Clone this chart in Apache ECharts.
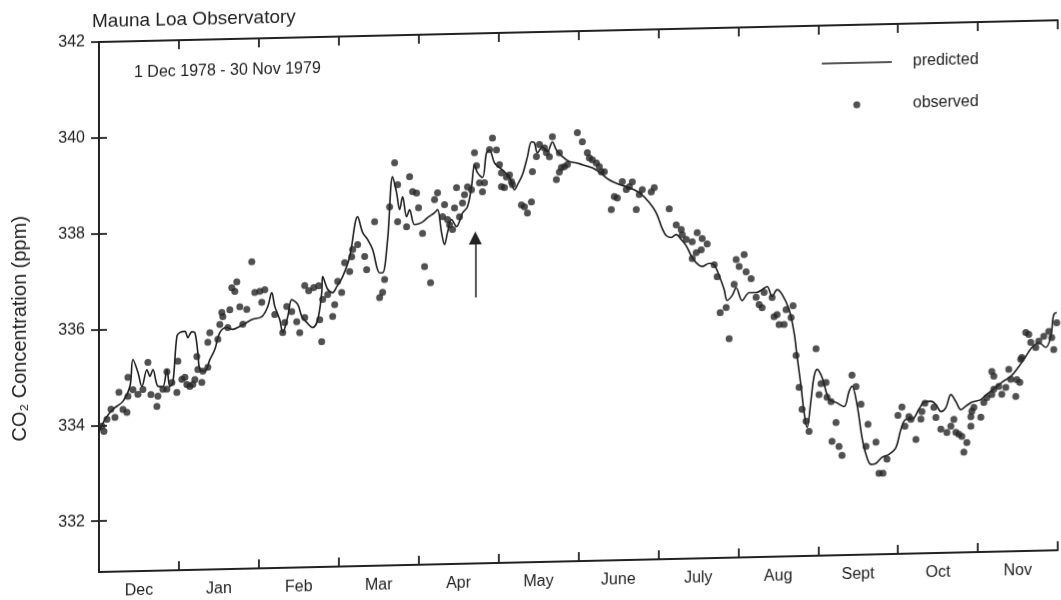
<!DOCTYPE html>
<html>
<head>
<meta charset="utf-8">
<script src="https://cdn.jsdelivr.net/npm/echarts@6/dist/echarts.min.js"></script>
<style>
  html, body { margin: 0; padding: 0; background: #ffffff; }
  #chart { width: 1061px; height: 600px; transform: skewY(-1.3deg); transform-origin: 99px 0; }
</style>
</head>
<body>
<div id="chart"></div>
<script>
// ---- data (x in months since 1 Dec 1978, y in ppm) ----
const months = ['Dec', 'Jan', 'Feb', 'Mar', 'Apr', 'May', 'June', 'July', 'Aug', 'Sept', 'Oct', 'Nov'];
const yTickValues = [332, 334, 336, 338, 340, 342];
const titleText = 'Mauna Loa Observatory';
const periodText = '1 Dec 1978 - 30 Nov 1979';
const yName = 'CO\u2082 Concentration (ppm)';

const predicted = [
  [0,333.85],[0.075,334.12],[0.175,334.33],[0.30,334.49],[0.3875,334.80],[0.425,335.36],[0.4875,335.09],[0.5375,334.79],
  [0.60,335.14],[0.6375,335.00],[0.675,335.14],[0.7375,334.79],[0.80,334.78],[0.85,335.14],[0.8875,334.78],[0.925,334.86],
  [0.975,335.82],[1.0125,335.90],[1.075,335.92],[1.1125,335.79],[1.1625,335.91],[1.20,335.89],[1.2375,335.47],[1.2625,335.12],
  [1.325,335.08],[1.3875,335.32],[1.45,335.53],[1.5125,335.88],[1.60,335.98],[1.675,335.94],[1.7625,336.00],[1.85,336.08],
  [1.925,336.14],[2.0375,336.19],[2.1125,336.40],[2.1625,336.69],[2.20,336.40],[2.2625,336.12],[2.30,335.85],[2.3625,336.18],
  [2.4125,336.53],[2.4875,336.43],[2.5375,336.18],[2.60,336.05],[2.675,335.94],[2.7375,336.10],[2.7875,336.66],[2.80,337.00],
  [2.8625,336.73],[2.925,336.66],[2.975,336.78],[3.05,336.99],[3.1375,337.40],[3.2375,338.23],[3.30,337.90],[3.3625,337.75],
  [3.425,337.54],[3.5125,337.05],[3.55,337.05],[3.6125,337.74],[3.675,339.05],[3.725,338.71],[3.7625,338.36],[3.80,338.63],
  [3.85,338.21],[3.8875,338.35],[3.95,338.04],[4.0375,338.08],[4.1125,338.18],[4.20,338.28],[4.2375,338.34],[4.2875,337.86],
  [4.325,337.61],[4.3625,337.86],[4.4125,338.13],[4.475,337.98],[4.55,338.26],[4.6125,338.39],[4.6625,338.80],[4.70,339.26],
  [4.7375,339.09],[4.80,338.99],[4.85,339.50],[4.8875,339.56],[4.95,339.29],[5.0125,339.19],[5.075,339.10],[5.1375,338.99],
  [5.20,338.72],[5.2375,338.82],[5.30,339.03],[5.3625,339.40],[5.4125,339.71],[5.45,339.69],[5.4875,339.48],[5.55,339.60],
  [5.6125,339.50],[5.675,339.70],[5.725,339.53],[5.80,339.39],[5.8875,339.28],[5.975,339.25],[6.05,339.21],[6.175,339.14],
  [6.2625,339.05],[6.3875,338.88],[6.5125,338.78],[6.6375,338.71],[6.7625,338.60],[6.8875,338.39],[6.975,338.17],[7.05,337.84],
  [7.10,337.69],[7.1625,337.65],[7.225,337.71],[7.2875,337.60],[7.35,337.47],[7.4125,337.26],[7.475,337.11],[7.55,337.03],
  [7.6375,337.09],[7.70,337.06],[7.7625,336.83],[7.825,336.54],[7.8625,336.31],[7.925,336.41],[7.975,336.57],[8.05,336.30],
  [8.1375,336.46],[8.225,336.46],[8.30,336.52],[8.3625,336.58],[8.425,336.37],[8.4875,336.51],[8.55,336.41],[8.6375,336.09],
  [8.70,335.61],[8.7375,335.11],[8.7875,334.48],[8.825,333.94],[8.8625,333.62],[8.9125,334.20],[8.95,334.68],[8.9875,334.83],
  [9.05,334.66],[9.1375,334.20],[9.225,334.13],[9.325,334.04],[9.3875,334.35],[9.425,334.46],[9.4875,334.08],[9.55,333.39],
  [9.60,333.03],[9.6625,332.82],[9.725,332.84],[9.80,332.96],[9.8875,333.02],[9.975,333.16],[10.0375,333.54],[10.10,333.74],
  [10.175,333.74],[10.2625,333.95],[10.325,334.09],[10.4125,334.11],[10.475,334.04],[10.5375,333.89],[10.60,333.97],[10.6625,334.24],
  [10.725,334.09],[10.7875,333.92],[10.85,333.99],[10.925,334.07],[11.0375,334.12],[11.1125,334.23],[11.225,334.37],[11.30,334.47],
  [11.4125,334.59],[11.5125,334.79],[11.60,335.00],[11.675,335.18],[11.7625,335.28],[11.85,335.18],[11.9125,335.40],[11.95,335.86],
  [11.9875,335.90]
];

const observed = [
  [0.0375,333.98],[0.0625,333.87],[0.10,334.12],[0.15,334.33],[0.20,334.16],[0.25,334.68],[0.30,334.32],[0.35,334.26],
  [0.3625,334.59],[0.3625,334.99],[0.425,334.73],[0.4875,334.63],[0.55,334.73],[0.6125,335.29],[0.65,334.62],[0.725,334.37],
  [0.7375,334.58],[0.80,334.72],[0.85,335.09],[0.85,334.72],[0.9125,334.86],[0.975,334.65],
  [0.9875,335.30],[1.0375,334.92],[1.075,334.96],[1.10,334.81],[1.1375,334.77],[1.175,334.81],[1.20,334.91],[1.225,335.39],
  [1.2375,335.12],[1.2875,334.85],[1.30,335.08],[1.3625,335.16],[1.3625,335.68],[1.3875,335.88],[1.4875,335.74],[1.5125,336.05],
  [1.5375,336.30],[1.55,336.21],[1.6125,335.98],[1.6375,336.35],[1.6625,336.81],[1.70,336.73],[1.725,336.93],[1.7625,336.41],
  [1.80,336.04],[1.85,336.35],[1.9125,337.34],[1.95,336.70],
  [2.0125,336.72],[2.0375,336.49],[2.075,336.75],[2.20,336.23],[2.30,335.85],[2.325,336.06],[2.35,336.39],[2.4125,336.28],
  [2.475,336.07],[2.5125,335.84],[2.575,336.82],[2.575,336.15],[2.625,336.71],[2.6875,336.77],[2.75,336.81],[2.7625,336.10],
  [2.7875,335.64],[2.80,336.52],[2.8625,336.62],[2.925,336.16],[2.95,336.41],
  [2.9875,336.89],[3.0375,336.66],[3.075,337.28],[3.1375,337.09],[3.1625,337.40],[3.175,337.55],[3.2375,337.65],[3.325,337.40],
  [3.35,337.12],[3.45,338.12],[3.5125,336.53],[3.55,336.64],[3.575,336.91],[3.6375,338.42],[3.70,339.34],[3.7375,338.88],
  [3.7375,338.11],[3.85,338.00],[3.8875,339.04],[3.925,338.73],[3.975,338.70],
  [4.0,338.39],[4.05,337.85],[4.075,337.16],[4.15,336.82],[4.20,338.55],[4.2375,338.69],[4.30,338.19],[4.325,338.44],
  [4.3625,338.13],[4.3875,338.02],[4.425,337.92],[4.45,338.37],[4.475,338.79],[4.5125,338.18],[4.55,338.47],[4.575,338.64],
  [4.6125,338.80],[4.6625,338.74],[4.70,339.51],[4.725,339.24],[4.7625,338.88],[4.80,338.69],[4.825,338.88],[4.8875,339.57],
  [4.925,339.81],[4.975,339.56],
  [5.0125,339.25],[5.0375,339.08],[5.0375,338.79],[5.075,338.77],[5.10,338.99],[5.1375,339.03],[5.1625,338.89],[5.175,338.83],
  [5.2875,338.40],[5.325,338.36],[5.3625,338.23],[5.4125,338.46],[5.425,339.09],[5.475,339.40],[5.5125,339.65],[5.575,339.58],
  [5.60,339.48],[5.6375,339.39],[5.675,339.81],[5.725,338.91],[5.7625,339.47],[5.7625,339.07],[5.7875,339.16],[5.825,339.18],
  [5.8625,339.22],[5.9875,339.88],
  [6.05,339.69],[6.1125,339.46],[6.1375,339.35],[6.175,339.31],[6.225,339.24],[6.2625,339.16],[6.2875,339.05],[6.325,339.05],
  [6.4125,338.26],[6.45,338.53],[6.4875,338.50],[6.55,338.84],[6.60,338.67],[6.6375,338.73],[6.675,338.83],[6.725,338.25],
  [6.7625,338.56],[6.80,338.66],[6.9125,338.61],[6.95,338.70],
  [7.1375,338.25],[7.225,337.91],[7.2875,337.81],[7.30,337.70],[7.35,337.60],[7.425,337.55],[7.4875,337.74],[7.55,337.61],
  [7.6125,337.50],[7.5375,337.38],[7.475,337.32],[7.425,337.20],[7.70,337.06],[7.7375,336.81],[7.775,336.06],[7.85,336.16],
  [7.8875,335.51],[7.95,336.64],[7.975,337.16],
  [8.0125,337.01],[8.075,337.26],[8.10,336.90],[8.1625,336.75],[8.225,336.36],[8.2625,336.21],[8.30,336.14],[8.325,336.46],
  [8.425,336.35],[8.45,335.95],[8.4875,335.99],[8.5125,335.78],[8.575,335.78],[8.60,336.09],[8.6625,335.92],[8.6875,336.17],
  [8.725,335.13],[8.7625,334.46],[8.80,334.00],[8.85,333.75],[8.8875,333.54],[8.975,335.26],
  [9.0125,334.30],[9.0375,334.53],[9.10,334.55],[9.1125,334.24],[9.1625,334.15],[9.175,333.32],[9.225,333.71],[9.2625,333.21],
  [9.30,333.02],[9.425,334.69],[9.475,334.45],[9.5375,334.08],[9.60,333.20],[9.625,333.66],[9.725,333.28],[9.7625,332.63],
  [9.8125,332.63],[9.8625,332.92],
  [10.0,333.83],[10.05,334.00],[10.0875,333.60],[10.1375,333.80],[10.1625,333.74],[10.225,333.32],[10.2875,333.74],[10.30,333.90],
  [10.3375,334.07],[10.45,333.98],[10.475,333.77],[10.5375,333.52],[10.6125,333.45],[10.6625,333.58],[10.70,333.72],[10.725,333.45],
  [10.7625,333.41],[10.80,333.36],[10.825,333.03],[10.8625,333.23],[10.9125,333.57],[10.9125,333.77],[10.925,333.88],[10.95,333.96],
  [11.0375,333.75],[11.075,334.06],[11.1125,334.16],[11.175,334.22],[11.20,334.33],[11.175,334.70],[11.20,334.60],[11.2625,334.39],
  [11.30,334.22],[11.35,334.36],[11.3875,334.74],[11.4125,334.53],[11.475,334.17],[11.4875,334.52],[11.525,334.46],[11.5375,334.94],
  [11.55,334.98],[11.60,335.50],[11.6375,335.46],[11.6625,335.29],[11.725,335.18],[11.7625,335.31],[11.825,335.41],[11.8875,335.51],
  [11.925,335.38],[11.95,335.13],[11.9875,335.69]
];

// annotation arrow (month position, ppm from -> to)
const arrowX = 4.71;
const arrowY = [336.49, 337.73];

// ---- chart ----
const FONT = '"Liberation Sans", Arial, Helvetica, sans-serif';
const INK = '#222';
const chart = echarts.init(document.getElementById('chart'), null, { renderer: 'canvas' });

const axisLine = { show: true, lineStyle: { color: INK, width: 1.8 } };

chart.setOption({
  animation: false,
  backgroundColor: '#ffffff',
  textStyle: { fontFamily: FONT, color: INK },
  title: [
    { text: titleText, left: 92, top: 12, padding: 0,
      textStyle: { fontSize: 19, fontWeight: 'normal', color: INK, fontFamily: FONT } },
    { text: periodText, left: 134, top: 66, padding: 0,
      textStyle: { fontSize: 16, fontWeight: 'normal', color: INK, fontFamily: FONT } }
  ],
  legend: {
    orient: 'vertical', left: 822, top: 70, padding: 0,
    itemWidth: 70, itemHeight: 7, itemGap: 22,
    textStyle: { fontSize: 16, color: INK, fontFamily: FONT, lineHeight: 20, padding: [0, 0, 0, 16] },
    data: [
      { name: 'predicted', icon: 'path://M0,0h70v1.6h-70z' },
      { name: 'observed', icon: 'circle' }
    ]
  },
  grid: { left: 99, right: 3, top: 42, bottom: 27, containLabel: false },
  xAxis: [
    { type: 'value', min: 0, max: 12, interval: 1, position: 'bottom',
      axisLine: axisLine, splitLine: { show: false },
      axisTick: { show: true, inside: true, length: 9, lineStyle: { color: INK, width: 1.8 } },
      axisLabel: { show: false } },
    { type: 'category', data: months, position: 'bottom', boundaryGap: true,
      axisLine: { show: false }, axisTick: { show: false }, splitLine: { show: false },
      axisLabel: { show: true, fontSize: 16, color: INK, fontFamily: FONT, margin: 12, interval: 0 } },
    { type: 'value', min: 0, max: 12, interval: 1, position: 'top',
      axisLine: axisLine, splitLine: { show: false },
      axisTick: { show: true, inside: true, length: 9, lineStyle: { color: INK, width: 1.8 } },
      axisLabel: { show: false } }
  ],
  yAxis: [
    { type: 'value', min: 330.94, max: 342, position: 'left',
      name: yName, nameLocation: 'middle', nameGap: 69, nameRotate: 90,
      nameTextStyle: { fontSize: 20, color: INK, fontFamily: FONT, padding: [0, 40, 0, 0] },
      axisLine: axisLine, splitLine: { show: false },
      axisTick: { show: true, inside: true, length: 8, customValues: yTickValues, lineStyle: { color: INK, width: 1.8 } },
      axisLabel: { show: true, fontSize: 16, color: INK, fontFamily: FONT, margin: 14, customValues: yTickValues } },
    { type: 'value', min: 330.94, max: 342, position: 'right',
      axisLine: axisLine, splitLine: { show: false },
      axisTick: { show: true, inside: true, length: 8, customValues: yTickValues, lineStyle: { color: INK, width: 1.8 } },
      axisLabel: { show: false } }
  ],
  series: [
    {
      name: 'predicted', type: 'line', data: predicted, xAxisIndex: 0, yAxisIndex: 0,
      smooth: 0.35, symbol: 'none', z: 2,
      lineStyle: { color: '#1e1e1e', width: 1.6 },
      itemStyle: { color: '#1e1e1e' },
      markLine: {
        silent: true, symbol: ['none', 'triangle'], symbolSize: 13,
        label: { show: false },
        lineStyle: { color: INK, width: 1.5, type: 'solid' },
        emphasis: { disabled: true },
        data: [[{ coord: [arrowX, arrowY[0]] }, { coord: [arrowX, arrowY[1]] }]]
      }
    },
    {
      name: 'observed', type: 'scatter', data: observed, xAxisIndex: 0, yAxisIndex: 0,
      symbol: 'circle', symbolSize: 7, z: 3,
      itemStyle: { color: '#262626' }
    }
  ]
});
</script>
</body>
</html>
